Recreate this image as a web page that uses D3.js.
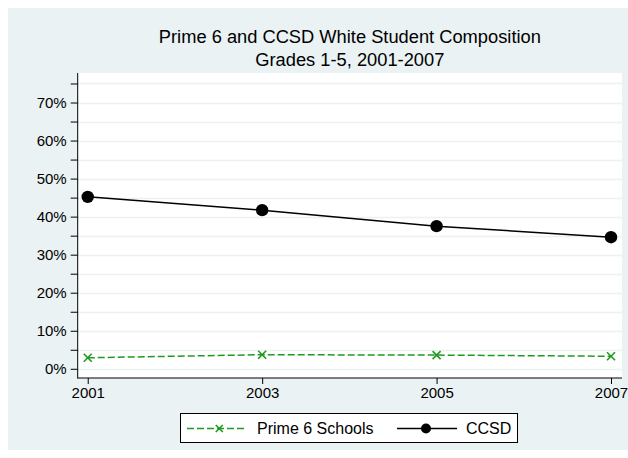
<!DOCTYPE html>
<html>
<head>
<meta charset="utf-8">
<script src="https://cdn.jsdelivr.net/npm/d3@7"></script>
<style>
  html, body { margin: 0; padding: 0; background: #ffffff; }
  svg { display: block; font-family: "Liberation Sans", Arial, sans-serif; }
</style>
</head>
<body>
<svg id="chart" width="628" height="458"></svg>
<script>
const years = [2001, 2003, 2005, 2007];
const prime6 = [2.9, 3.7, 3.6, 3.3];
const ccsd = [45.2, 41.7, 37.5, 34.6];
const yMajorTicks = [0, 10, 20, 30, 40, 50, 60, 70];
const yMinorTicks = [5, 15, 25, 35, 45, 55, 65, 75];
const titleLines = ["Prime 6 and CCSD White Student Composition", "Grades 1-5, 2001-2007"];
const seriesNames = ["Prime 6 Schools", "CCSD"];

const svg = d3.select("#chart");
const bg = "#eaf2f3";
const green = "#1e9a1e";

// graph region
svg.append("rect").attr("x", 8).attr("y", 8).attr("width", 620).attr("height", 442).attr("fill", bg);

const plot = { left: 77.7, right: 622, top: 73, bottom: 378 };
const x = d3.scaleLinear().domain([2000.885, 2007.126]).range([plot.left, plot.right]);
const y = d3.scaleLinear().domain([-2.42, 77.76]).range([plot.bottom, plot.top]);

svg.append("rect")
  .attr("x", plot.left).attr("y", plot.top)
  .attr("width", plot.right - plot.left).attr("height", plot.bottom - plot.top)
  .attr("fill", "#ffffff");

// gridlines every 5%
const gridVals = yMajorTicks.concat(yMinorTicks).filter(v => v <= 75);
svg.append("g").selectAll("line").data(gridVals).join("line")
  .attr("x1", plot.left).attr("x2", plot.right)
  .attr("y1", d => Math.round(y(d)) + 0.5).attr("y2", d => Math.round(y(d)) + 0.5)
  .attr("stroke", bg).attr("stroke-width", 1.5);

// Y axis
const yAxis = d3.axisLeft(y).tickValues(yMajorTicks).tickSize(7).tickPadding(4)
  .tickFormat(d => d + "%");
const yg = svg.append("g").attr("transform", `translate(${plot.left},0)`).call(yAxis);
yg.select(".domain").remove();
yg.selectAll("text").attr("font-size", 15).attr("fill", "#000").attr("font-family", "Liberation Sans, Arial, sans-serif");
yg.selectAll("line").attr("stroke", "#000");
const yMinor = d3.axisLeft(y).tickValues(yMinorTicks).tickSize(7).tickFormat("");
const ymg = svg.append("g").attr("transform", `translate(${plot.left},0)`).call(yMinor);
ymg.select(".domain").remove();
ymg.selectAll("line").attr("stroke", "#000");
svg.append("line").attr("x1", plot.left).attr("x2", plot.left)
  .attr("y1", plot.top).attr("y2", plot.bottom + 0.5).attr("stroke", "#000").attr("stroke-width", 1);

// X axis
const xAxis = d3.axisBottom(x).tickValues(years).tickSize(6).tickPadding(3).tickFormat(d3.format("d"));
const xg = svg.append("g").attr("transform", `translate(0,${plot.bottom})`).call(xAxis);
xg.select(".domain").remove();
xg.selectAll("text").attr("font-size", 15).attr("fill", "#000").attr("font-family", "Liberation Sans, Arial, sans-serif");
xg.selectAll("line").attr("stroke", "#000");
svg.append("line").attr("x1", plot.left).attr("x2", plot.right)
  .attr("y1", plot.bottom).attr("y2", plot.bottom).attr("stroke", "#000").attr("stroke-width", 1);

// lines
const line = d3.line().x(d => x(d[0])).y(d => y(d[1]));
const p6 = years.map((yr, i) => [yr, prime6[i]]);
const cc = years.map((yr, i) => [yr, ccsd[i]]);

svg.append("path").datum(p6).attr("d", line).attr("fill", "none")
  .attr("stroke", green).attr("stroke-width", 1.5).attr("stroke-dasharray", "7,3");
svg.append("path").datum(cc).attr("d", line).attr("fill", "none")
  .attr("stroke", "#000").attr("stroke-width", 1.5);

function xMark(g, cx, cy, s) {
  g.append("path")
    .attr("d", `M${cx - s},${cy - s}L${cx + s},${cy + s}M${cx - s},${cy + s}L${cx + s},${cy - s}`)
    .attr("stroke", green).attr("stroke-width", 1.6).attr("fill", "none");
}
const mk = svg.append("g");
p6.forEach(d => xMark(mk, x(d[0]), y(d[1]), 4));
svg.append("g").selectAll("circle").data(cc).join("circle")
  .attr("cx", d => x(d[0])).attr("cy", d => y(d[1])).attr("r", 6.2).attr("fill", "#000");

// title
const cxTitle = (plot.left + plot.right) / 2;
svg.append("g").selectAll("text").data(titleLines).join("text")
  .attr("x", cxTitle).attr("y", (d, i) => 42.5 + i * 23)
  .attr("text-anchor", "middle").attr("font-size", 18.3).attr("fill", "#000")
  .text(d => d);

// legend
const lg = svg.append("g");
lg.append("rect").attr("x", 180.5).attr("y", 413.5).attr("width", 337).attr("height", 29)
  .attr("fill", "#fff").attr("stroke", "#000").attr("stroke-width", 1);
const ly = 428.5;
lg.append("line").attr("x1", 187).attr("x2", 247).attr("y1", ly).attr("y2", ly)
  .attr("stroke", green).attr("stroke-width", 1.5).attr("stroke-dasharray", "7,3").attr("stroke-dashoffset", 0);
xMark(lg, 219.3, ly, 3.5);
lg.append("text").attr("x", 257).attr("y", ly + 5.5).attr("font-size", 16).attr("fill", "#000").text(seriesNames[0]);
lg.append("line").attr("x1", 397).attr("x2", 457).attr("y1", ly).attr("y2", ly)
  .attr("stroke", "#000").attr("stroke-width", 1.5);
lg.append("circle").attr("cx", 426).attr("cy", ly).attr("r", 5).attr("fill", "#000");
lg.append("text").attr("x", 466).attr("y", ly + 5.5).attr("font-size", 16).attr("fill", "#000").text(seriesNames[1]);
</script>
</body>
</html>
